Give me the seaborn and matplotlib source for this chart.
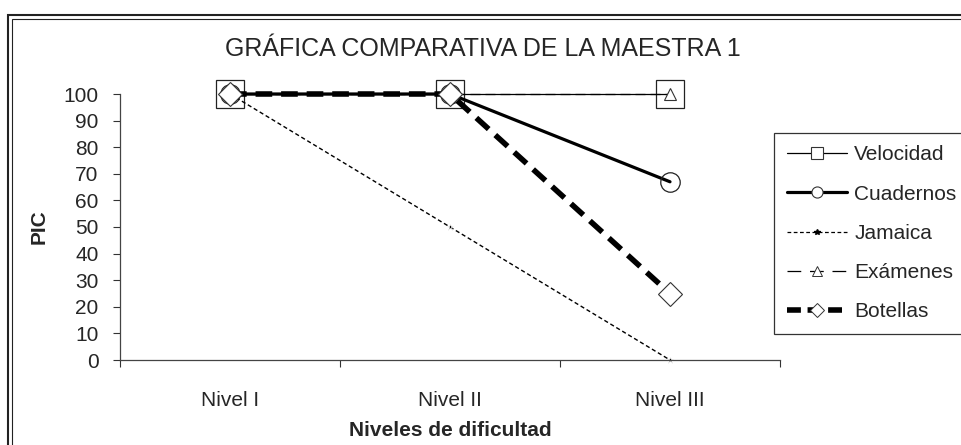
import matplotlib
matplotlib.use("Agg")
import matplotlib.pyplot as plt
import seaborn as sns
from matplotlib.lines import Line2D
from matplotlib.patches import Rectangle

levels = ["Nivel I", "Nivel II", "Nivel III"]
velocidad = [100, 100, 100]
cuadernos = [100, 100, 67]
jamaica = [100, 50, 0]
examenes = [100, 100, 100]
botellas = [100, 100, 25]
yticks = [0, 10, 20, 30, 40, 50, 60, 70, 80, 90, 100]

sns.set_theme(style="white")
plt.rcParams['font.family'] = ['Liberation Sans', 'DejaVu Sans']

FS = 15
fig = plt.figure(figsize=(9.61, 4.45), dpi=100)
ax = fig.add_axes([120/961, 1-360/445, 660/961, 266/445])

xpos = [0, 1, 2]
sns.lineplot(x=xpos, y=velocidad, ax=ax, color="black", linewidth=0.9,
             marker="s", markersize=20, markerfacecolor="none",
             markeredgecolor="#222222", markeredgewidth=0.9, clip_on=False)
sns.lineplot(x=xpos, y=cuadernos, ax=ax, color="black", linewidth=2.3,
             marker="o", markersize=14, markerfacecolor="none",
             markeredgecolor="#222222", markeredgewidth=0.9, clip_on=False)
sns.lineplot(x=xpos, y=jamaica, ax=ax, color="black", linewidth=1.0,
             linestyle=(0, (3, 2)), marker="*", markersize=5,
             markeredgewidth=0.5, clip_on=False)
sns.lineplot(x=xpos, y=examenes, ax=ax, color="black", linewidth=0.9,
             linestyle=(0, (8, 4)), marker="^", markersize=8,
             markerfacecolor="white", markeredgecolor="#333333",
             markeredgewidth=0.8, clip_on=False)
sns.lineplot(x=xpos, y=botellas, ax=ax, color="black", linewidth=4.0,
             linestyle=(0, (3, 1.6)), marker="D", markersize=12,
             markerfacecolor="white", markeredgecolor="#333333",
             markeredgewidth=0.8, clip_on=False)

ax.set_xlim(-0.5, 2.5)
ax.set_ylim(0, 100)
ax.set_yticks(yticks)
ax.set_yticklabels([str(v) for v in yticks], fontsize=FS)
ax.set_xticks(xpos)
ax.set_xticklabels(levels, fontsize=FS)
ax.set_xticks([-0.5, 0.5, 1.5, 2.5], minor=True)
ax.tick_params(axis="x", which="major", length=0, pad=22)
ax.tick_params(axis="x", which="minor", length=5, width=0.8, color="#333333",
               direction="out", bottom=True)
ax.tick_params(axis="y", length=5, width=0.8, color="#333333",
               direction="out", left=True, pad=10.5)
for s in ["top", "right"]:
    ax.spines[s].set_visible(False)
for s in ["left", "bottom"]:
    ax.spines[s].set_color("#444444")
    ax.spines[s].set_linewidth(0.9)
ax.set_xlabel("Niveles de dificultad", fontsize=FS, fontweight="bold")
ax.xaxis.set_label_coords(0.5, (360-421)/266)
ax.set_ylabel("PIC", fontsize=FS, fontweight="bold")
ax.yaxis.set_label_coords((49-120)/660, 0.5)
ax.grid(False)

fig.text(483/961, 1-49/445, "GRÁFICA COMPARATIVA DE LA MAESTRA 1",
         ha="center", va="center", fontsize=18)

# legend
handles = [
    Line2D([], [], color="black", linewidth=0.9, marker="s", markersize=8,
           markerfacecolor="white", markeredgecolor="#333333", markeredgewidth=0.8),
    Line2D([], [], color="black", linewidth=2.3, marker="o", markersize=8,
           markerfacecolor="white", markeredgecolor="#333333", markeredgewidth=0.8),
    Line2D([], [], color="black", linewidth=0.9, linestyle=(0, (3, 2)),
           marker="*", markersize=4),
    Line2D([], [], color="black", linewidth=0.9, linestyle=(0, (11, 7)),
           marker="^", markersize=7, markerfacecolor="white",
           markeredgecolor="#333333", markeredgewidth=0.7),
    Line2D([], [], color="black", linewidth=4.0, linestyle=(0, (2.5, 1.2)),
           marker="D", markersize=7, markerfacecolor="white",
           markeredgecolor="#333333", markeredgewidth=0.7),
]
labels = ["Velocidad", "Cuadernos", "Jamaica", "Exámenes", "Botellas"]
leg = fig.legend(handles, labels, loc="upper left",
                 bbox_to_anchor=(774/961, 1-133/445), fontsize=FS,
                 frameon=True, fancybox=False, handlelength=2.9,
                 handletextpad=0.35, labelspacing=0.97, borderpad=0.6,
                 borderaxespad=0)
leg.get_frame().set_edgecolor("black")
leg.get_frame().set_linewidth(0.9)

# outer double border
fig.patches.append(Rectangle((8/961, -0.05), 1.0, 1-15/445+0.05,
                             transform=fig.transFigure, fill=False,
                             edgecolor="#222222", linewidth=1.5))
fig.patches.append(Rectangle((12/961, -0.05), 1.0, 1-18.5/445+0.05,
                             transform=fig.transFigure, fill=False,
                             edgecolor="#222222", linewidth=0.8))

fig.savefig("out.png", dpi=100)
